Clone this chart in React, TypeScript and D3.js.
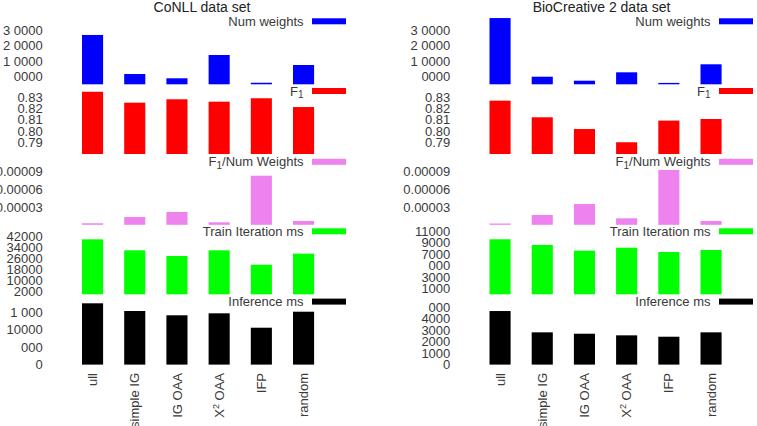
import React from "react";
import * as d3 from "d3";

// method names along the x axis ("X^2" gets a superscript 2)
const categories = ["ull", "simple IG", "IG OAA", "X^2 OAA", "IFP", "random"];

// CoNLL data set
const conllNumWeights = [318000, 66400, 38700, 188900, 10000, 124400];
const conllF1 = [0.8346, 0.825, 0.828, 0.8259, 0.8289, 0.8212];
const conllF1PerWeight = [2.6e-6, 1.32e-5, 2.17e-5, 4.2e-6, 8.32e-5, 6.4e-6];
const conllTrainMs = [39600, 31700, 27600, 31700, 21300, 29300];
const conllInferenceMs = [17580, 15370, 14140, 14710, 10580, 15170];

// BioCreative 2 data set
const bioNumWeights = [427000, 49000, 23200, 77300, 9000, 128900];
const bioF1 = [0.8268, 0.8122, 0.8019, 0.7903, 0.8093, 0.8107];
const bioF1PerWeight = [2.2e-6, 1.66e-5, 3.53e-5, 1.1e-5, 9.29e-5, 6.4e-6];
const bioTrainMs = [9560, 8570, 7580, 8100, 7350, 7700];
const bioInferenceMs = [4650, 2800, 2680, 2540, 2420, 2800];

// tick values and the labels printed next to them
const numWeightTicks = [50000, 150000, 250000, 350000];
const numWeightLabels = ["0000", "1 0000", "2 0000", "3 0000"];
const f1Ticks = [0.79, 0.8, 0.81, 0.82, 0.83];
const f1Labels = ["0.79", "0.80", "0.81", "0.82", "0.83"];
const f1PerWeightTicks = [0.00003, 0.00006, 0.00009];
const f1PerWeightLabels = ["0.00003", "0.00006", "0.00009"];
const conllTrainTicks = [2000, 10000, 18000, 26000, 34000, 42000];
const conllTrainLabels = ["2000", "10000", "18000", "26000", "34000", "42000"];
const bioTrainTicks = [1000, 3000, 5000, 7000, 9000, 11000];
const bioTrainLabels = ["1000", "3000", "000", "7000", "9000", "11000"];
const conllInferenceTicks = [0, 5000, 10000, 15000];
const conllInferenceLabels = ["0", "000", "10000", "1 000"];
const bioInferenceTicks = [0, 1000, 2000, 3000, 4000, 5000];
const bioInferenceLabels = ["0", "1000", "2000", "3000", "4000", "000"];

const FONT = "'Liberation Sans', Arial, Helvetica, sans-serif";
const TEXT = "#3a3a3a";

type Row = {
  key: string;
  legend: React.ReactNode;
  color: string;
  bottom: number;
  domain: [number, number];
  top: number;
  values: number[];
  ticks: number[];
  labels: string[];
};

type Column = {
  title: string;
  titleX: number;
  axisX: number;
  bandStart: number;
  bandEnd: number;
  legendX: number;
  rows: Row[];
};

// F with a subscript 1, followed by the rest of the label
const f1Label = (rest: string) => (
  <>
    F
    <tspan dy={2.5} fontSize={10}>
      1
    </tspan>
    <tspan dy={-2.5}>{rest}</tspan>
  </>
);

function makeRows(
  weights: number[],
  f1: number[],
  f1w: number[],
  train: number[],
  inference: number[],
  trainTicks: number[],
  trainLabels: string[],
  trainMax: number,
  trainTop: number,
  infTicks: number[],
  infLabels: string[],
  infMax: number,
  infTop: number
): Row[] {
  return [
    {
      key: "w",
      legend: "Num weights",
      color: "#0000ff",
      bottom: 84.3,
      domain: [0, 350000],
      top: 30,
      values: weights,
      ticks: numWeightTicks,
      labels: numWeightLabels
    },
    {
      key: "f1",
      legend: f1Label(""),
      color: "#ff0000",
      bottom: 154,
      domain: [0.78, 0.83],
      top: 97,
      values: f1,
      ticks: f1Ticks,
      labels: f1Labels
    },
    {
      key: "f1w",
      legend: f1Label("/Num Weights"),
      color: "#ee82ee",
      bottom: 224.8,
      domain: [0, 0.00009],
      top: 171.7,
      values: f1w,
      ticks: f1PerWeightTicks,
      labels: f1PerWeightLabels
    },
    {
      key: "train",
      legend: "Train Iteration ms",
      color: "#00ff00",
      bottom: 294.3,
      domain: [0, trainMax],
      top: trainTop,
      values: train,
      ticks: trainTicks,
      labels: trainLabels
    },
    {
      key: "inf",
      legend: "Inference ms",
      color: "#000000",
      bottom: 364.6,
      domain: [0, infMax],
      top: infTop,
      values: inference,
      ticks: infTicks,
      labels: infLabels
    }
  ];
}

const columns: Column[] = [
  {
    title: "CoNLL data set",
    titleX: 202,
    axisX: 42.7,
    bandStart: 60.9,
    bandEnd: 335.2,
    legendX: 303.5,
    rows: makeRows(
      conllNumWeights, conllF1, conllF1PerWeight, conllTrainMs, conllInferenceMs,
      conllTrainTicks, conllTrainLabels, 42000, 236,
      conllInferenceTicks, conllInferenceLabels, 15000, 312.3
    )
  },
  {
    title: "BioCreative 2 data set",
    titleX: 601.5,
    axisX: 450.3,
    bandStart: 468.4,
    bandEnd: 742.7,
    legendX: 710.5,
    rows: makeRows(
      bioNumWeights, bioF1, bioF1PerWeight, bioTrainMs, bioInferenceMs,
      bioTrainTicks, bioTrainLabels, 11000, 231,
      bioInferenceTicks, bioInferenceLabels, 5000, 307
    )
  }
];

function CategoryLabel({ name }: { name: string }) {
  if (name.includes("^2")) {
    const [head, tail] = name.split("^2");
    return (
      <>
        {head}
        <tspan dy={-5} fontSize={9}>
          2
        </tspan>
        <tspan dy={5}>{tail}</tspan>
      </>
    );
  }
  return <>{name}</>;
}

function Panel({ col }: { col: Column }) {
  const x = d3
    .scaleBand<string>()
    .domain(categories)
    .range([col.bandStart, col.bandEnd])
    .paddingInner(0.5)
    .paddingOuter(0.5);

  return (
    <g>
      <text x={col.titleX} y={12} textAnchor="middle" fontSize={14} fill="#222">
        {col.title}
      </text>
      {col.rows.map(row => {
        const y = d3.scaleLinear().domain(row.domain).range([row.bottom, row.top]);
        const base = y(row.domain[0]);
        const legendY = row.bottom - 63;
        return (
          <g key={row.key}>
            {row.values.map((v, i) => (
              <rect
                key={i}
                x={x(categories[i])}
                width={x.bandwidth()}
                y={y(v)}
                height={base - y(v)}
                fill={row.color}
              />
            ))}
            {row.ticks.map((t, i) => (
              <text key={t} x={col.axisX} y={y(t)} dy="0.35em" textAnchor="end" fontSize={13} fill={TEXT}>
                {row.labels[i]}
              </text>
            ))}
            <text x={col.legendX} y={legendY} dy="0.35em" textAnchor="end" fontSize={13} fill={TEXT}>
              {row.legend}
            </text>
            <rect x={col.legendX + 8.5} y={legendY - 3} width={34} height={6} fill={row.color} />
          </g>
        );
      })}
      {categories.map(c => {
        const cx = (x(c) ?? 0) + x.bandwidth() / 2;
        return (
          <text
            key={c}
            transform={`translate(${cx},373) rotate(-90)`}
            dy="0.35em"
            textAnchor="end"
            fontSize={13}
            fill={TEXT}
          >
            <CategoryLabel name={c} />
          </text>
        );
      })}
    </g>
  );
}

export default function App() {
  return (
    <svg
      width={757}
      height={426}
      style={{ position: "absolute", left: 0, top: 0, background: "#fff" }}
      fontFamily={FONT}
    >
      {columns.map(col => (
        <Panel key={col.title} col={col} />
      ))}
    </svg>
  );
}
